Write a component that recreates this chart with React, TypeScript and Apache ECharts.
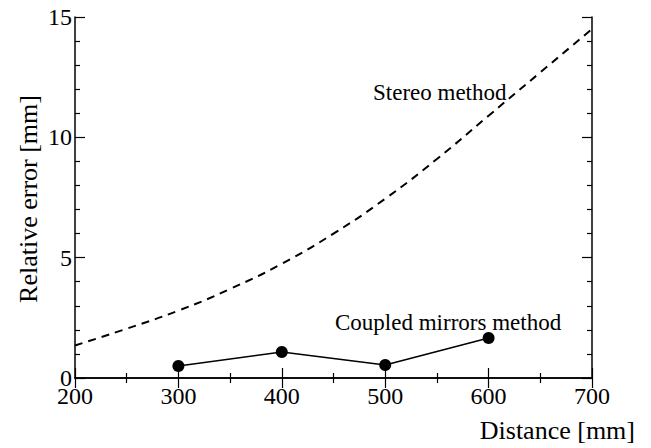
import React, { useEffect, useRef } from "react";
import * as echarts from "echarts";

const distances = [300, 400, 500, 600];
const coupledErrors = [0.5, 1.08, 0.54, 1.66];
const stereoDistances = [200, 250, 300, 350, 400, 450, 500, 550, 600, 650, 700];
const stereoErrors = [1.35, 2.05, 2.8, 3.7, 4.75, 6.0, 7.45, 9.1, 10.9, 12.7, 14.5];
const xTicks = [200, 300, 400, 500, 600, 700];
const yTicks = [0, 5, 10, 15];

const FONT = "Liberation Serif";

export default function App() {
  const ref = useRef<HTMLDivElement>(null);
  useEffect(() => {
    if (!ref.current) return;
    const chart = echarts.init(ref.current, null, { renderer: "svg" });
    const axisLine = { show: true, lineStyle: { color: "#000", width: 1.5 } };
    const xCommon = {
      type: "value" as const,
      min: xTicks[0],
      max: xTicks[xTicks.length - 1],
      interval: 100,
      axisLine,
      axisTick: { show: true, inside: true, length: 10, lineStyle: { color: "#000", width: 1.2 } },
      minorTick: { show: true, splitNumber: 2, length: 5, lineStyle: { color: "#000", width: 1.2 } },
      splitLine: { show: false },
    };
    const yCommon = {
      type: "value" as const,
      min: yTicks[0],
      max: yTicks[yTicks.length - 1],
      interval: 5,
      axisLine,
      axisTick: { show: true, inside: true, length: 10, lineStyle: { color: "#000", width: 1.2 } },
      minorTick: { show: true, splitNumber: 5, length: 5, lineStyle: { color: "#000", width: 1.2 } },
      splitLine: { show: false },
    };
    chart.setOption({
      animation: false,
      backgroundColor: "#fff",
      grid: { left: 75, top: 17, right: 59, bottom: 70 },
      xAxis: [
        {
          ...xCommon,
          position: "bottom",
          axisLabel: { color: "#000", fontFamily: FONT, fontSize: 24, margin: 6 },
        },
        { ...xCommon, position: "top", axisLabel: { show: false } },
      ],
      yAxis: [
        {
          ...yCommon,
          position: "left",
          axisLabel: { color: "#000", fontFamily: FONT, fontSize: 24, margin: 3 },
        },
        { ...yCommon, position: "right", axisLabel: { show: false } },
      ],
      series: [
        {
          type: "line",
          data: stereoDistances.map((d, i) => [d, stereoErrors[i]]),
          smooth: true,
          showSymbol: false,
          lineStyle: { color: "#000", width: 2, type: [8, 6] },
        },
        {
          type: "line",
          data: distances.map((d, i) => [d, coupledErrors[i]]),
          symbol: "circle",
          symbolSize: 12,
          itemStyle: { color: "#000" },
          lineStyle: { color: "#000", width: 1.5 },
        },
      ],
      graphic: [
        {
          type: "text",
          x: 373,
          y: 92,
          style: { text: "Stereo method", font: `23px '${FONT}'`, fill: "#000", textAlign: "left", textVerticalAlign: "middle" },
        },
        {
          type: "text",
          x: 335,
          y: 322,
          style: { text: "Coupled mirrors method", font: `23px '${FONT}'`, fill: "#000", textAlign: "left", textVerticalAlign: "middle" },
        },
        {
          type: "text",
          x: 635,
          y: 430,
          style: { text: "Distance [mm]", font: `26px '${FONT}'`, fill: "#000", textAlign: "right", textVerticalAlign: "middle" },
        },
        {
          type: "text",
          x: 28,
          y: 199,
          rotation: Math.PI / 2,
          style: { text: "Relative error [mm]", font: `26px '${FONT}'`, fill: "#000", textAlign: "center", textVerticalAlign: "middle" },
        },
      ],
    });
    return () => chart.dispose();
  }, []);
  return <div ref={ref} style={{ width: 651, height: 448, position: "absolute", left: 0, top: 0 }} />;
}
